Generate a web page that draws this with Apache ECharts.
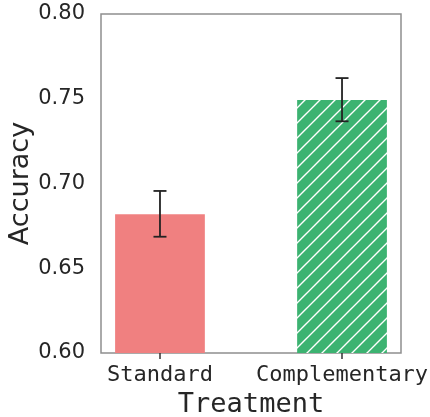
<!DOCTYPE html>
<html>
<head>
<meta charset="utf-8">
<style>
    html, body { margin: 0; padding: 0; background: #fff; }
    #main { width: 430px; height: 417px; }
</style>
<script src="https://cdn.jsdelivr.net/npm/echarts@6/dist/echarts.min.js"></script>
</head>
<body>
<div id="main"></div>
<script>
    // data
    var categories = ['Standard', 'Complementary'];
    var accuracy = [0.6818, 0.7493];
    var errLow = [0.6686, 0.7367];
    var errHigh = [0.6956, 0.7622];
    var barColors = ['#F08080', '#3CB371'];
    var yTicks = [0.60, 0.65, 0.70, 0.75, 0.80];

    // white diagonal hatch for the second bar
    function hatch(bg) {
        var s = 15;
        var c = document.createElement('canvas');
        c.width = s; c.height = s;
        var ctx = c.getContext('2d');
        ctx.fillStyle = bg;
        ctx.fillRect(0, 0, s, s);
        ctx.strokeStyle = '#ffffff';
        ctx.lineWidth = 1.4;
        ctx.beginPath();
        ctx.moveTo(-2, s + 2); ctx.lineTo(s + 2, -2);
        ctx.moveTo(-2, 2); ctx.lineTo(2, -2);
        ctx.moveTo(s - 2, s + 2); ctx.lineTo(s + 2, s - 2);
        ctx.stroke();
        return { image: c, repeat: 'repeat' };
    }

    var barData = accuracy.map(function (v, i) { return [i, v]; });
    var errData = accuracy.map(function (v, i) { return [i, errLow[i], errHigh[i]]; });

    var option = {
        animation: false,
        grid: {
            left: 101, right: 29, top: 14, bottom: 64,
            outerBoundsMode: 'none',
            containLabel: false,
            show: true, borderColor: '#8f8f8f', borderWidth: 1.5, backgroundColor: '#fff'
        },
        xAxis: {
            type: 'value',
            min: -0.324,
            max: 1.324,
            name: 'Treatment',
            nameLocation: 'middle',
            nameGap: 38,
            nameMoveOverlap: false,
            nameTextStyle: { fontFamily: 'DejaVu Sans Mono', fontSize: 27, color: '#262626' },
            axisLine: { show: false },
            splitLine: { show: false },
            axisTick: { show: true, customValues: [0, 1], length: 6, lineStyle: { color: '#333', width: 1.5 } },
            axisLabel: {
                customValues: [0, 1],
                margin: 11,
                fontFamily: 'DejaVu Sans Mono',
                fontSize: 22,
                color: '#262626',
                formatter: function (v) { return categories[Math.round(v)]; }
            }
        },
        yAxis: {
            type: 'value',
            min: 0.6,
            max: 0.8,
            interval: 0.05,
            name: 'Accuracy',
            nameLocation: 'middle',
            nameGap: 67,
            nameMoveOverlap: false,
            nameTextStyle: { fontFamily: 'DejaVu Sans', fontSize: 27, color: '#262626' },
            axisLine: { show: false },
            axisTick: { show: false },
            splitLine: { show: false },
            axisLabel: {
                margin: 16,
                fontFamily: 'DejaVu Sans',
                fontSize: 21,
                color: '#262626',
                formatter: function (v) { return v.toFixed(2); }
            }
        },
        series: [
            {
                type: 'custom',
                data: barData,
                encode: { x: 0, y: 1 },
                renderItem: function (params, api) {
                    var i = api.value(0);
                    var half = 0.2465;
                    var p0 = api.coord([i - half, api.value(1)]);
                    var p1 = api.coord([i + half, 0.6]);
                    var fill = i === 1 ? hatch(barColors[1]) : barColors[0];
                    return {
                        type: 'rect',
                        shape: { x: p0[0], y: p0[1], width: p1[0] - p0[0], height: p1[1] - p0[1] },
                        style: { fill: fill }
                    };
                },
                z: 2
            },
            {
                type: 'custom',
                data: errData,
                encode: { x: 0, y: [1, 2] },
                renderItem: function (params, api) {
                    var i = api.value(0);
                    var lo = api.coord([i, api.value(1)]);
                    var hi = api.coord([i, api.value(2)]);
                    var cap = 6.5;
                    var st = { stroke: '#222', lineWidth: 1.8 };
                    return {
                        type: 'group',
                        children: [
                            { type: 'line', shape: { x1: lo[0], y1: lo[1], x2: hi[0], y2: hi[1] }, style: st },
                            { type: 'line', shape: { x1: lo[0] - cap, y1: lo[1], x2: lo[0] + cap, y2: lo[1] }, style: st },
                            { type: 'line', shape: { x1: hi[0] - cap, y1: hi[1], x2: hi[0] + cap, y2: hi[1] }, style: st }
                        ]
                    };
                },
                z: 3
            }
        ]
    };

    var myChart = echarts.init(document.getElementById('main'));
    myChart.setOption(option);
</script>
</body>
</html>
